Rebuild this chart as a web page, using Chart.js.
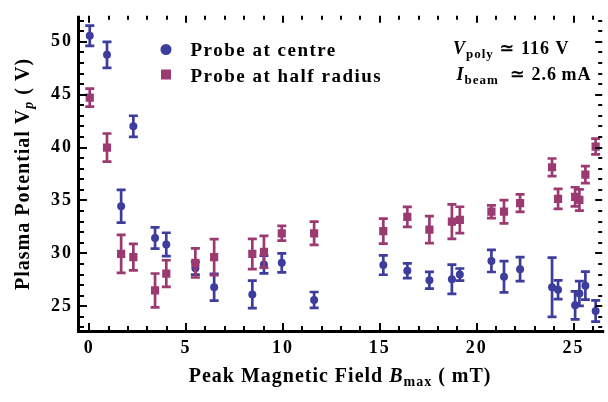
<!DOCTYPE html>
<html>
<head>
<meta charset="utf-8">
<script src="https://cdn.jsdelivr.net/npm/chart.js@4/dist/chart.umd.min.js"></script>
<style>
html,body{margin:0;padding:0;background:#fff;}
#c{display:block;}
</style>
</head>
<body>
<canvas id="c" width="608" height="402"></canvas>
<script>
// ---- data ----
const fieldValues = [0.03, 0.92, 1.65, 2.28, 3.40, 3.98, 5.48, 6.45, 8.42, 9.02, 9.94, 11.61, 15.18, 16.42, 17.56, 18.72, 19.13, 20.76, 21.41, 22.24, 23.89, 24.20, 25.08, 25.30, 25.61, 26.14];
const centreValues = [50.57, 48.77, 34.45, 42.01, 31.45, 30.85, 28.6, 26.8, 26.12, 28.95, 29.11, 25.6, 28.9, 28.36, 27.46, 27.55, 28.0, 29.29, 27.79, 28.51, 26.8, 26.56, 25.09, 26.2, 26.95, 24.55];
const centreErrors = [0.95, 1.23, 1.55, 1.0, 1.0, 1.1, 0.6, 1.27, 1.3, 0.83, 0.9, 0.75, 0.92, 0.7, 0.8, 1.38, 0.57, 1.05, 1.48, 1.13, 2.8, 0.88, 1.32, 1.17, 1.32, 1.0];
const halfRadiusValues = [44.72, 40.0, 29.95, 29.65, 26.5, 28.09, 29.1, 29.65, 29.95, 30.15, 31.9, 31.9, 32.1, 33.45, 32.25, 33.0, 33.16, 33.94, 33.94, 34.75, 38.14, 35.15, 35.35, 35.05, 37.45, 40.1];
const halfRadiusErrors = [0.85, 1.33, 1.8, 1.25, 1.6, 1.26, 1.38, 1.7, 1.43, 1.5, 0.7, 1.1, 1.18, 0.95, 1.28, 1.63, 1.25, 0.6, 1.1, 0.83, 0.83, 0.95, 0.9, 1.0, 0.8, 0.75];
const xTickValues = [0, 5, 10, 15, 20, 25];
const yTickValues = [25, 30, 35, 40, 45, 50];
const seriesLabels = ['Probe at centre', 'Probe at half radius'];

const BLUE = 'rgb(61,61,158)';
const PINK = 'rgb(155,58,113)';
const SERIF = "'Liberation Serif', 'Times New Roman', 'DejaVu Serif', serif";

function pts(xs, ys) { return xs.map((x, i) => ({x: x, y: ys[i]})); }

function drawRuns(ctx, runs, x, y, align, spacing) {
  ctx.letterSpacing = spacing + 'px';
  let w = 0;
  runs.forEach(r => { ctx.font = r.font; w += ctx.measureText(r.t).width; });
  let cx = align === 'center' ? x - w / 2 : x;
  ctx.textAlign = 'left';
  ctx.textBaseline = 'alphabetic';
  runs.forEach(r => {
    ctx.font = r.font;
    ctx.fillText(r.t, cx, y + (r.dy || 0));
    cx += ctx.measureText(r.t).width;
  });
}

const errorBars = {
  id: 'errorBars',
  beforeDatasetDraw(chart, args) {
    const ds = chart.data.datasets[args.index];
    const xs = chart.scales.x, ys = chart.scales.y;
    const ctx = chart.ctx;
    ctx.save();
    ctx.strokeStyle = ds.borderColor;
    ctx.lineWidth = 2.7;
    ctx.lineCap = 'butt';
    ds.data.forEach((p, i) => {
      const e = ds.errors[i];
      const px = xs.getPixelForValue(p.x);
      const y1 = ys.getPixelForValue(p.y - e);
      const y2 = ys.getPixelForValue(p.y + e);
      ctx.beginPath();
      ctx.moveTo(px, y1); ctx.lineTo(px, y2);
      ctx.moveTo(px - 4.5, y1); ctx.lineTo(px + 4.5, y1);
      ctx.moveTo(px - 4.5, y2); ctx.lineTo(px + 4.5, y2);
      ctx.stroke();
    });
    ctx.restore();
  }
};

const frameAndText = {
  id: 'frameAndText',
  beforeDraw(chart) {
    chart.ctx.letterSpacing = '2px';
  },
  afterDraw(chart) {
    const {ctx, chartArea: a} = chart;
    const xs = chart.scales.x, ys = chart.scales.y;
    ctx.save();
    ctx.strokeStyle = '#000';
    ctx.fillStyle = '#000';
    // frame lines
    ctx.lineWidth = 3;
    ctx.beginPath();
    ctx.moveTo(a.left + 0.5, a.top);
    ctx.lineTo(a.left + 0.5, a.bottom + 1);
    ctx.moveTo(a.left - 1, a.bottom - 0.5);
    ctx.lineTo(a.right + 2, a.bottom - 0.5);
    ctx.stroke();
    // ticks
    ctx.lineWidth = 2;
    ctx.beginPath();
    for (let v = Math.ceil(xs.min); v <= Math.floor(xs.max); v++) {
      const px = Math.round(xs.getPixelForValue(v));
      const len = v % 5 === 0 ? 7 : 4;
      ctx.moveTo(px, a.bottom - 2); ctx.lineTo(px, a.bottom - 2 - len);
      ctx.moveTo(px, a.top); ctx.lineTo(px, a.top + len);
    }
    for (let v = Math.ceil(ys.min); v <= Math.floor(ys.max); v++) {
      const py = Math.round(ys.getPixelForValue(v));
      const len = v % 5 === 0 ? 7 : 4;
      ctx.moveTo(a.left + 2, py); ctx.lineTo(a.left + 2 + len, py);
      ctx.moveTo(a.right, py); ctx.lineTo(a.right - len, py);
    }
    ctx.stroke();

    // axis titles
    const B20 = 'bold 20px ' + SERIF, BI20 = 'italic bold 20px ' + SERIF, B14 = 'bold 14px ' + SERIF, BI14 = 'italic bold 14px ' + SERIF;
    drawRuns(ctx, [
      {t: 'Peak Magnetic Field ', font: B20},
      {t: 'B', font: BI20},
      {t: 'max', font: B14, dy: 4},
      {t: ' ( mT)', font: B20}
    ], (a.left + a.right) / 2, 382, 'center', 1);

    ctx.save();
    ctx.translate(28.5, (a.top + a.bottom) / 2);
    ctx.rotate(-Math.PI / 2);
    drawRuns(ctx, [
      {t: 'Plasma Potential V', font: B20},
      {t: 'p', font: BI14, dy: 4},
      {t: ' ( V)', font: B20}
    ], 0, 0, 'center', 1);
    ctx.restore();

    // legend
    ctx.fillStyle = BLUE;
    ctx.beginPath(); ctx.arc(166, 49.5, 5.5, 0, Math.PI * 2); ctx.fill();
    ctx.fillStyle = PINK;
    ctx.fillRect(161, 69.5, 10, 10);
    ctx.fillStyle = '#000';
    const B19 = 'bold 19px ' + SERIF;
    drawRuns(ctx, [{t: seriesLabels[0], font: B19}], 190.5, 56, 'left', 1.5);
    drawRuns(ctx, [{t: seriesLabels[1], font: B19}], 190.5, 81.5, 'left', 1.5);

    // annotation
    const B18 = 'bold 18px ' + SERIF, BI18 = 'italic bold 18px ' + SERIF, B13 = 'bold 13px ' + SERIF;
    drawRuns(ctx, [
      {t: 'V', font: BI18},
      {t: 'poly', font: B13, dy: 4},
      {t: ' \u2243 116 V', font: B18}
    ], 453, 53.5, 'left', 1);
    drawRuns(ctx, [
      {t: 'I', font: BI18},
      {t: 'beam', font: B13, dy: 4},
      {t: '  \u2243 2.6\u2009mA', font: B18}
    ], 456.5, 79.5, 'left', 1);
    ctx.restore();
  }
};

new Chart(document.getElementById('c'), {
  type: 'scatter',
  data: {
    datasets: [
      {
        label: seriesLabels[0],
        data: pts(fieldValues, centreValues),
        errors: centreErrors,
        backgroundColor: BLUE,
        borderColor: BLUE,
        borderWidth: 0,
        pointStyle: 'circle',
        pointRadius: 4,
        pointHoverRadius: 4,
        order: 1
      },
      {
        label: seriesLabels[1],
        data: pts(fieldValues, halfRadiusValues),
        errors: halfRadiusErrors,
        backgroundColor: PINK,
        borderColor: PINK,
        borderWidth: 0,
        pointStyle: 'rect',
        pointRadius: 5.8,
        pointHoverRadius: 5.8,
        order: 0
      }
    ]
  },
  options: {
    responsive: false,
    animation: false,
    devicePixelRatio: 1,
    layout: {padding: 0},
    plugins: {legend: {display: false}, tooltip: {enabled: false}, title: {display: false}},
    scales: {
      x: {
        type: 'linear',
        min: -0.577,
        max: 26.478,
        grid: {display: false, drawTicks: false},
        border: {display: false},
        afterFit(s) { s.height = 70; },
        afterBuildTicks(s) { s.ticks = xTickValues.map(v => ({value: v})); },
        ticks: {
          color: '#000',
          padding: 6,
          maxRotation: 0,
          autoSkip: false,
          font: {family: SERIF, weight: 'bold', size: 18}
        }
      },
      y: {
        type: 'linear',
        min: 22.569,
        max: 52.458,
        grid: {display: false, drawTicks: false},
        border: {display: false},
        afterFit(s) { s.width = 78; },
        afterBuildTicks(s) { s.ticks = yTickValues.map(v => ({value: v})); },
        ticks: {
          color: '#000',
          padding: 5,
          autoSkip: false,
          font: {family: SERIF, weight: 'bold', size: 18}
        }
      }
    }
  },
  plugins: [errorBars, frameAndText]
});
</script>
</body>
</html>
